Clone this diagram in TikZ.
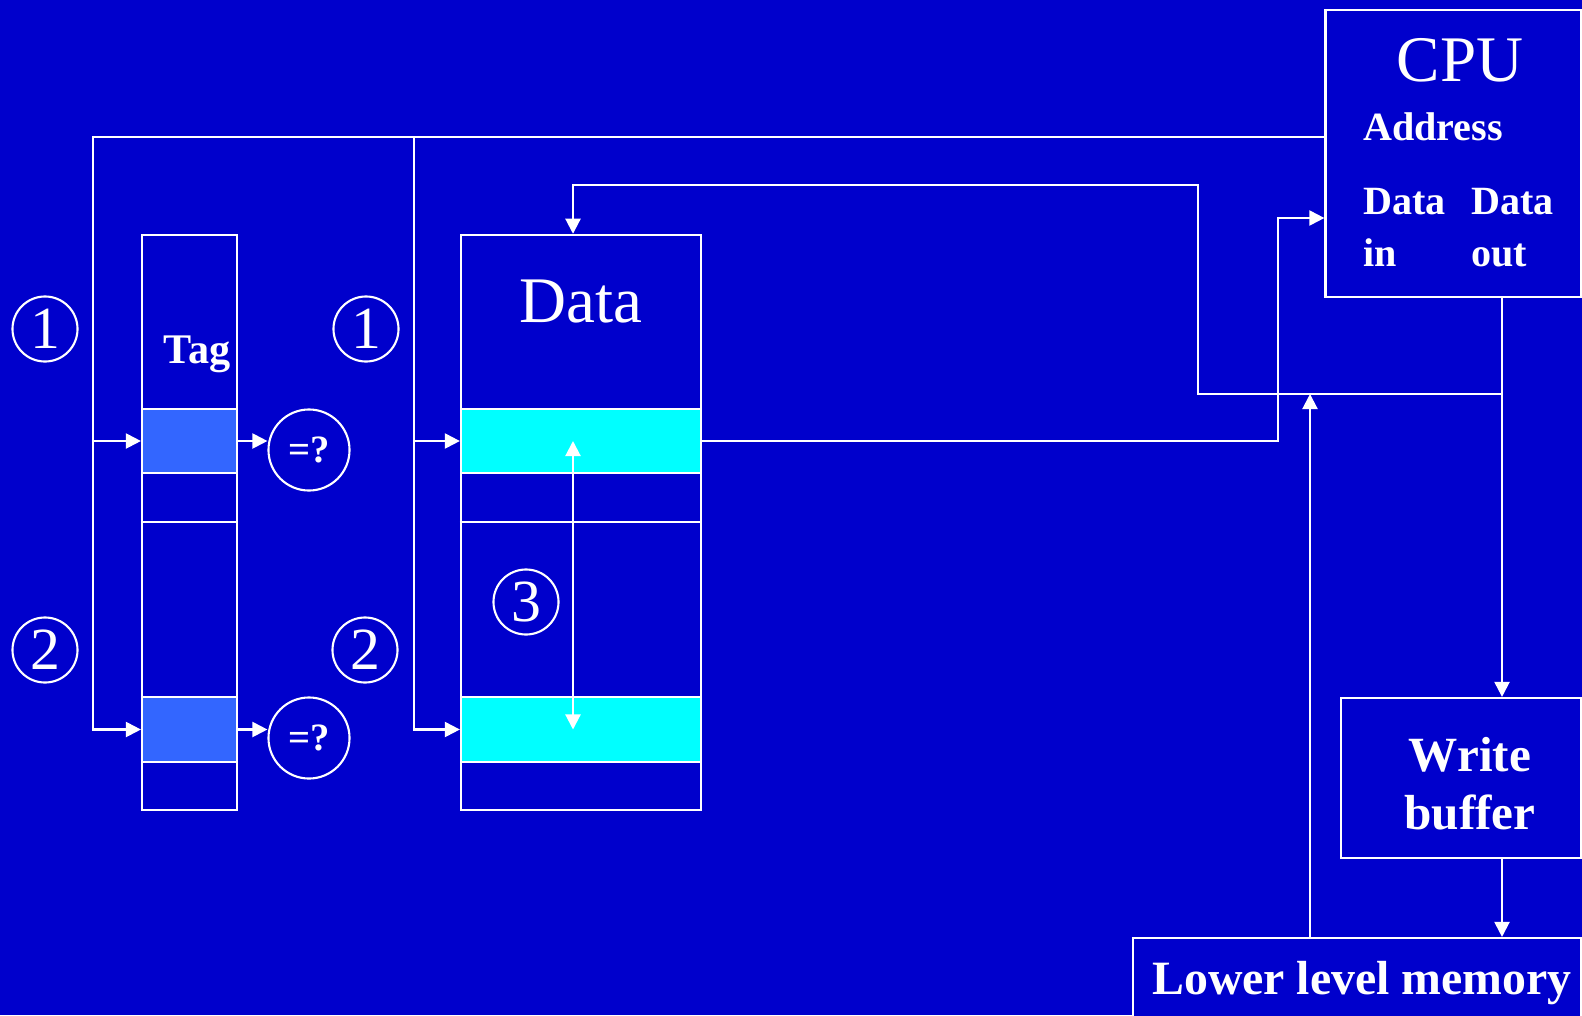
\documentclass[tikz,border=0pt]{standalone}
\usepackage{fontspec}
\setmainfont{Liberation Serif}
\usetikzlibrary{arrows.meta}
\definecolor{slideblue}{RGB}{0,0,204}
\definecolor{tagblue}{RGB}{51,102,255}
\definecolor{rowcyan}{RGB}{0,255,255}
\begin{document}
\begin{tikzpicture}[x=0.01cm,y=-0.01cm,line width=0.6pt,color=white,
  >={Triangle[length=4.3pt,width=4.3pt]},
  blk/.style={draw=white,fill=slideblue,inner sep=0pt},
  tagrow/.style={draw=white,fill=tagblue,minimum width=0.95cm,minimum height=0.645cm,inner sep=0pt},
  datarow/.style={draw=white,fill=rowcyan,minimum width=2.4cm,minimum height=0.645cm,inner sep=0pt},
  num/.style={draw=white,circle,minimum size=0.65cm,inner sep=0pt,font=\fontsize{17}{17}\selectfont},
  cmp/.style={draw=white,circle,minimum size=0.81cm,inner sep=0pt,font=\bfseries\fontsize{11}{11}\selectfont},
  big/.style={inner sep=0pt,font=\fontsize{18.5}{22}\selectfont},
  small/.style={inner sep=0pt,align=left,font=\bfseries\fontsize{11.4}{14.8}\selectfont},
  mid/.style={inner sep=0pt,align=center,font=\bfseries\fontsize{14}{16.5}\selectfont}]
\useasboundingbox (0,0) rectangle (1582,1015);
\clip (0,0) rectangle (1582,1015);
\fill[slideblue] (0,0) rectangle (1582,1015);

\node[blk,minimum width=2.55cm,minimum height=2.87cm] (cpu) at (1453,153.5) {};
\node[big] (cpulbl) at (1460,60) {CPU};
\node[small,anchor=base west] (addr) at (1362,140) {Address};
\node[small,anchor=north west] (din) at (1362,187) {Data\\in};
\node[small,anchor=north west] (dout) at (1470,187) {Data\\out};

\node[blk,minimum width=2.4cm,minimum height=1.6cm] (wbuf) at (1461,778) {};
\node[mid] (wbuflbl) at (1470,784) {Write\\buffer};
\node[blk,minimum width=4.48cm,minimum height=0.8cm] (mem) at (1357,978) {};
\node[mid,font=\bfseries\fontsize{13.6}{16}\selectfont] (memlbl) at (1362,983) {Lower level memory};

\node[blk,minimum width=0.95cm,minimum height=5.75cm] (tagcol) at (189.5,522.5) {};
\node[blk,minimum width=2.4cm,minimum height=5.75cm] (datacol) at (581,522.5) {};
\node[tagrow] (tag1) at (189.5,441) {};
\node[tagrow] (tag2) at (189.5,729.5) {};
\node[datarow] (data1) at (581,441) {};
\node[datarow] (data2) at (581,729.5) {};
\coordinate (split) at (0,522);
\draw (tagcol.west |- split) -- (tagcol.east |- split);
\draw (datacol.west |- split) -- (datacol.east |- split);
\node[inner sep=0pt,font=\bfseries\fontsize{12}{12}\selectfont] (taglbl) at (197,354) {Tag};
\node[big] (datalbl) at (581,302) {Data};

\node[num] (n1a) at (45,329) {1};
\node[num] (n1b) at (366,329) {1};
\node[num] (n2a) at (45,650) {2};
\node[num] (n2b) at (365,650) {2};
\node[num] (n3) at (526,602) {3};
\node[cmp] (eq1) at (309,450) {=?};
\node[cmp] (eq2) at (309,738) {=?};

\coordinate (abus) at (93,137);
\coordinate (bbus) at (414,137);
\draw[->] (cpu.west |- abus) -- (abus) |- (tag2.west);
\draw[->] (abus |- tag1) -- (tag1.west);
\draw[->] (bbus) |- (data2.west);
\draw[->] (bbus |- data1) -- (data1.west);
\draw[->] (tag1.east) -- (tag1.east -| eq1.west);
\draw[->] (tag2.east) -- (tag2.east -| eq2.west);

\coordinate (swapx) at (573,0);
\draw[<->] (data1 -| swapx) -- (data2 -| swapx);

\coordinate (wtap) at (1502,394);
\coordinate (rdtop) at (1198,185);
\coordinate (dinx) at (1278,218);
\coordinate (memx) at (1310,0);
\draw[->] (cpu.south -| wtap) -- (wbuf.north -| wtap);
\draw[->] (wtap) -| (rdtop) -| (datacol.north -| swapx);
\draw[->] (data1.east) -| (dinx) -- (cpu.west |- dinx);
\draw[->] (mem.north -| memx) -- (wtap -| memx);
\draw[->] (wbuf.south -| wtap) -- (mem.north -| wtap);
\end{tikzpicture}
\end{document}
